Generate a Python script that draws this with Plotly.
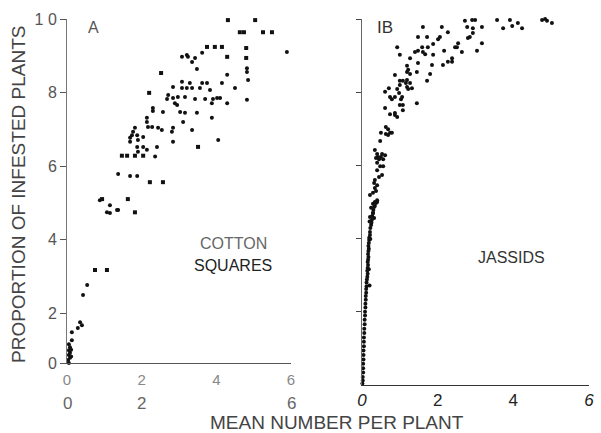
import plotly.graph_objects as go

# ---------------- Panel A: cotton squares ----------------
a_sq_x = [4.31, 5.04, 4.63, 4.74, 5.25, 5.49, 3.75, 3.96, 4.15, 4.29, 4.80, 4.80, 2.52, 2.20,
          3.51, 1.47, 1.61, 1.82, 2.04, 2.22, 2.57, 0.94, 1.63, 1.82, 0.75, 1.07]
a_sq_y = [0.997, 0.997, 0.964, 0.964, 0.964, 0.964, 0.924, 0.924, 0.924, 0.897, 0.921, 0.894, 0.853, 0.799,
          0.652, 0.628, 0.628, 0.628, 0.628, 0.556, 0.556, 0.510, 0.510, 0.474, 0.317, 0.317]

a_dot_x = [5.89, 3.62, 3.21, 3.24, 3.35, 3.43, 3.48, 3.08, 4.82, 4.82, 4.85, 4.82, 4.29, 4.15, 4.50,
           2.84, 3.08, 3.08, 3.21, 3.29, 3.35, 3.56, 3.62, 3.75, 3.83, 2.71, 2.68, 2.84, 2.97, 3.16,
           3.43, 3.70, 3.91, 4.02, 3.88, 4.10, 4.29, 2.89, 2.95, 3.03, 3.16, 3.48, 3.88, 3.11, 2.30,
           2.30, 2.57, 2.14, 2.14, 2.17, 2.28, 2.44, 2.54, 1.82, 1.77, 1.74, 1.88, 1.69, 1.69, 1.90,
           1.88, 2.04, 2.04, 2.84, 2.81, 3.35, 2.84, 2.36, 2.41, 4.05, 1.90, 2.14, 1.37, 1.69, 1.88,
           1.15, 1.37, 1.07, 1.15, 1.34, 0.88, 0.54, 0.43, 0.35, 0.40, 0.29, 0.13, 0.13, 0.08, 0.05,
           0.08, 0.05, 0.08, 0.03, 0.05, 0.11, 0.05, 0.11]
a_dot_y = [0.910, 0.908, 0.902, 0.897, 0.883, 0.894, 0.864, 0.897, 0.866, 0.856, 0.834, 0.780, 0.848, 0.826, 0.812,
           0.815, 0.829, 0.812, 0.812, 0.826, 0.812, 0.812, 0.826, 0.826, 0.807, 0.793, 0.782, 0.785, 0.788, 0.788,
           0.782, 0.782, 0.782, 0.785, 0.771, 0.785, 0.771, 0.771, 0.766, 0.747, 0.745, 0.745, 0.731, 0.720, 0.758,
           0.750, 0.747, 0.731, 0.720, 0.706, 0.706, 0.704, 0.698, 0.704, 0.693, 0.684, 0.684, 0.677, 0.666, 0.671,
           0.652, 0.679, 0.652, 0.704, 0.693, 0.698, 0.666, 0.626, 0.652, 0.671, 0.639, 0.644, 0.578, 0.573, 0.573,
           0.493, 0.480, 0.474, 0.472, 0.480, 0.507, 0.276, 0.249, 0.175, 0.167, 0.159, 0.148, 0.126, 0.107, 0.099,
           0.092, 0.086, 0.078, 0.072, 0.064, 0.082, 0.115, 0.100]

# ---------------- Panel B: jassids ----------------
b_x = [2.72, 2.91, 2.99, 2.78, 2.93, 3.17, 2.93, 2.85, 2.80, 3.17, 3.04, 3.57, 3.73, 3.91, 3.97,
       4.12, 4.23, 4.76, 4.84, 4.89, 5.02,
       1.61, 2.11, 2.27, 2.06, 2.01, 1.48, 1.72, 1.88, 1.74, 1.59, 1.61, 1.48, 1.40, 1.67, 1.88,
       2.17, 2.51, 2.46, 2.64, 2.54,
       0.93, 1.00, 1.27, 1.48, 1.19, 1.22, 1.19, 1.45, 1.27, 0.87, 1.80, 1.85, 2.14, 2.27, 2.38,
       2.38, 1.72,
       1.00, 1.08, 1.16, 1.19, 1.27, 1.00, 1.19, 1.32, 1.22, 0.93, 0.71, 0.61, 0.98, 0.87, 0.74,
       1.06, 0.79, 1.03, 1.00, 1.08, 1.45, 0.61, 0.74, 0.87, 0.93, 1.08, 0.87,
       0.63, 0.69, 0.50, 0.63, 0.74, 0.79, 0.69, 0.48,
       0.34, 0.40, 0.53, 0.61, 0.42, 0.50, 0.37, 0.45, 0.56, 0.40, 0.48, 0.56, 0.40, 0.53, 0.45,
       0.34, 0.32, 0.40, 0.34, 0.37, 0.29, 0.21, 0.34, 0.40, 0.29, 0.24, 0.29, 0.21, 0.32,
       0.40, 0.37, 0.34, 0.32, 0.30, 0.29, 0.27, 0.26, 0.25, 0.24, 0.22, 0.21, 0.21, 0.19, 0.19,
       0.18, 0.17, 0.18, 0.17, 0.16, 0.17, 0.16, 0.15, 0.16, 0.15, 0.14, 0.15, 0.14, 0.13, 0.12,
       0.12, 0.11, 0.11, 0.10, 0.10, 0.09, 0.09, 0.08, 0.08, 0.07, 0.07, 0.06, 0.06, 0.05, 0.05,
       0.05, 0.04, 0.04, 0.04, 0.03, 0.03, 0.03, 0.02, 0.02, 0.01, 0.20, 0.22, 0.18, 0.20]
b_y = [0.995, 0.997, 0.997, 0.978, 0.975, 0.978, 0.962, 0.951, 0.948, 0.934, 0.913, 0.997, 0.975, 0.997, 0.981,
       0.989, 0.975, 0.997, 1.000, 0.995, 0.989,
       0.978, 0.978, 0.964, 0.951, 0.945, 0.951, 0.951, 0.932, 0.923, 0.923, 0.910, 0.913, 0.910, 0.904, 0.902,
       0.913, 0.923, 0.923, 0.910, 0.934,
       0.923, 0.902, 0.893, 0.880, 0.872, 0.861, 0.855, 0.855, 0.850, 0.847, 0.850, 0.874, 0.874, 0.883, 0.883,
       0.893, 0.831,
       0.831, 0.831, 0.825, 0.833, 0.825, 0.820, 0.814, 0.811, 0.809, 0.809, 0.811, 0.801, 0.798, 0.787, 0.787,
       0.787, 0.781, 0.781, 0.765, 0.765, 0.770, 0.757, 0.740, 0.743, 0.732, 0.751, 0.738,
       0.705, 0.699, 0.689, 0.686, 0.689, 0.689, 0.683, 0.667,
       0.642, 0.631, 0.631, 0.628, 0.623, 0.623, 0.620, 0.617, 0.617, 0.607, 0.598, 0.598, 0.587, 0.574, 0.568,
       0.560, 0.552, 0.546, 0.538, 0.530, 0.525, 0.519, 0.500, 0.500, 0.495, 0.484, 0.470, 0.459, 0.456,
       0.505, 0.497, 0.489, 0.486, 0.478, 0.470, 0.462, 0.451, 0.443, 0.437, 0.429, 0.418, 0.410, 0.402, 0.396,
       0.388, 0.380, 0.372, 0.366, 0.358, 0.350, 0.342, 0.336, 0.328, 0.320, 0.312, 0.304, 0.296, 0.288, 0.280,
       0.270, 0.262, 0.252, 0.243, 0.233, 0.222, 0.212, 0.200, 0.190, 0.178, 0.166, 0.154, 0.142, 0.130, 0.118,
       0.106, 0.094, 0.082, 0.070, 0.058, 0.046, 0.034, 0.022, 0.012, 0.004, 0.447, 0.399, 0.316, 0.272]

a_ytick_vals = [0.064, 0.2, 0.4, 0.6, 0.8, 1.0]
a_ytick_text = ["0", "2", "4", "6", "8", "1 0"]
x_tick_vals = [0, 2, 4, 6]
x_tick_text = ["0", "2", "4", "6"]
b_xtick_text = ["<i>0</i>", "2", "4", "<i>6</i>"]
a_row2_vals = [0, 2, 6]
a_row2_text = ["0", "2", "6"]

W, H = 601, 433
FONT = "Liberation Sans, Arial, sans-serif"
INK = "#111111"

fig = go.Figure()
fig.add_trace(go.Scatter(x=a_sq_x, y=a_sq_y, mode="markers", xaxis="x", yaxis="y",
                         marker=dict(symbol="square", size=4, color=INK), cliponaxis=False))
fig.add_trace(go.Scatter(x=a_dot_x, y=a_dot_y, mode="markers", xaxis="x", yaxis="y",
                         marker=dict(symbol="circle", size=4, color=INK), cliponaxis=False))
fig.add_trace(go.Scatter(x=b_x, y=b_y, mode="markers", xaxis="x2", yaxis="y2",
                         marker=dict(symbol="circle", size=4, color=INK), cliponaxis=False))

axcommon = dict(showgrid=False, zeroline=False, showline=True, linewidth=1, automargin=False)

fig.update_layout(
    template="none",
    width=W, height=H, margin=dict(l=0, r=0, t=0, b=0, pad=0),
    paper_bgcolor="white", plot_bgcolor="white", showlegend=False,
    font=dict(family=FONT, color="#444444"),
    xaxis=dict(domain=[67 / W, 291 / W], range=[0, 6], anchor="y", linecolor="#555555",
               tickvals=x_tick_vals, ticktext=x_tick_text, ticks="", ticklabelstandoff=3,
               tickfont=dict(size=15, color="#888888"), **axcommon),
    yaxis=dict(domain=[1 - 363 / H, 1 - 19 / H], range=[0.064, 1.0], anchor="x", linecolor="#777777",
               tickvals=a_ytick_vals, ticktext=a_ytick_text, ticks="outside", ticklen=6,
               tickcolor="#555555", tickfont=dict(size=16, color="#555555"), **axcommon),
    xaxis2=dict(domain=[362 / W, 589 / W], range=[0, 6], anchor="y2", linecolor="#333333",
                tickvals=x_tick_vals, ticktext=b_xtick_text, ticks="", ticklabelstandoff=0,
                tickfont=dict(size=17, color="#222222"), **axcommon),
    yaxis2=dict(domain=[1 - 385 / H, 1 - 19 / H], range=[0, 1.0], anchor="x2", linecolor="#666666",
                tickvals=[0.2, 0.4, 0.6, 0.8, 1.0], ticks="outside", ticklen=5,
                tickcolor="#444444", showticklabels=False, **axcommon),
)


def label(x, y, text, size, color, angle=0, xref="paper"):
    return dict(x=x, y=y, xref=xref, yref="paper", text=text, showarrow=False,
                xanchor="center", yanchor="middle", textangle=angle,
                font=dict(size=size, color=color))


ann = [label(v, 1 - 403 / H, t, 17, "#666666", xref="x") for v, t in zip(a_row2_vals, a_row2_text)]
ann += [
    label(18 / W, 1 - 195 / H, "PROPORTION OF INFESTED PLANTS", 19, "#444444", angle=-90),
    label(337 / W, 1 - 422 / H, "MEAN NUMBER PER PLANT", 19, "#444444"),
    label(93 / W, 1 - 28 / H, "A", 16, "#555555"),
    label(385 / W, 1 - 27 / H, "IB", 17, "#333333"),
    label(233 / W, 1 - 243 / H, "COTTON", 16, "#666666"),
    label(233 / W, 1 - 265 / H, "SQUARES", 16, "#222222"),
    label(511 / W, 1 - 257 / H, "JASSIDS", 16, "#333333"),
]
fig.update_layout(annotations=ann)

fig.write_html("out.html", config={"displayModeBar": False},
               post_script="document.body.style.margin='0';document.body.style.padding='0';")
